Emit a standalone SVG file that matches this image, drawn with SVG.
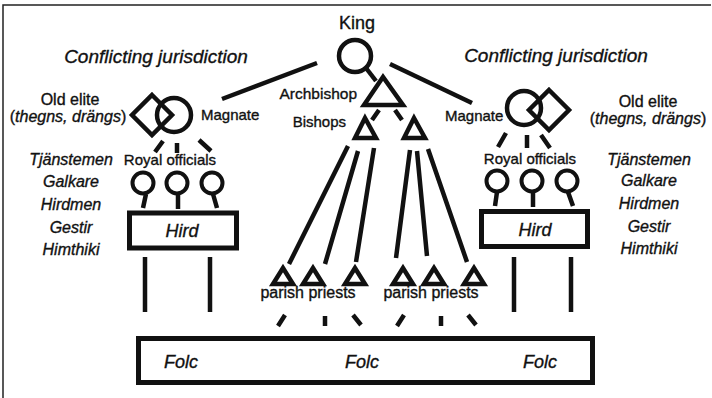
<svg xmlns="http://www.w3.org/2000/svg" width="712" height="398" viewBox="0 0 712 398">
<style>
text{font-family:"Liberation Sans",Arial,Helvetica,sans-serif;fill:#111;stroke:#111;stroke-width:0.35}
.it{font-style:italic}
.c{text-anchor:middle}
.e{text-anchor:end}
.s{fill:none;stroke:#111;stroke-width:4.5;stroke-linejoin:miter}
.t{fill:none;stroke:#111;stroke-width:4}
.f{font-size:15px}
.g{font-size:16px}
</style>
<rect width="712" height="398" fill="#fff"/>
<path d="M3,398V5H711" fill="none" stroke="#222" stroke-width="1.5"/>

<g id="labels-left">
<text class="it c" x="156" y="63" font-size="19">Conflicting jurisdiction</text>
<text class="c g" x="70" y="105">Old elite</text>
<text class="c g" x="68" y="122">(<tspan class="it">thegns, drängs</tspan>)</text>
<g class="it c g">
<text x="71" y="165">Tjänstemen</text>
<text x="71" y="187">Galkare</text>
<text x="71" y="210">Hirdmen</text>
<text x="71" y="233">Gestir</text>
<text x="71" y="255">Himthiki</text>
</g>
</g>

<g id="labels-right">
<text class="it c" x="556" y="62" font-size="19">Conflicting jurisdiction</text>
<text class="c g" x="648" y="107">Old elite</text>
<text class="c g" x="648" y="124">(<tspan class="it">thegns, drängs</tspan>)</text>
<g class="it c g">
<text x="649" y="165">Tjänstemen</text>
<text x="649" y="186">Galkare</text>
<text x="649" y="209">Hirdmen</text>
<text x="649" y="232">Gestir</text>
<text x="649" y="254">Himthiki</text>
</g>
</g>

<g id="king">
<text class="c" x="357" y="29" font-size="18">King</text>
<circle class="s" cx="355" cy="56" r="16"/>
</g>

<g id="archbishop">
<polygon class="s" points="383,77 364,105 403,105"/>
<text class="e" x="357" y="99" font-size="15.5">Archbishop</text>
</g>

<g id="bishops">
<text class="e" x="346" y="127" font-size="15">Bishops</text>
<polygon class="s" points="365,118 355,138 376,138"/>
<polygon class="s" points="414,118 404,138 425,138"/>
</g>

<g id="magnate-left">
<polygon class="s" points="152,95 172,115 152,135 132,115"/>
<circle class="s" cx="174" cy="115" r="17"/>
<text class="f" x="201" y="120">Magnate</text>
</g>

<g id="magnate-right">
<circle class="s" cx="524" cy="108" r="17"/>
<polygon class="s" points="549,90 569,110 549,130 529,110"/>
<text class="f" x="445" y="121">Magnate</text>
</g>

<g id="officials-left">
<text class="c f" x="170" y="165">Royal officials</text>
<circle class="t" cx="143" cy="183" r="10.5"/>
<circle class="t" cx="177" cy="183" r="10.5"/>
<circle class="t" cx="212" cy="183" r="10.5"/>
</g>

<g id="officials-right">
<text class="c f" x="530" y="164">Royal officials</text>
<circle class="t" cx="497" cy="181" r="10.5"/>
<circle class="t" cx="532" cy="181" r="10.5"/>
<circle class="t" cx="567" cy="181" r="10.5"/>
</g>

<g id="hird-left">
<rect x="129.5" y="213" width="107" height="35" fill="none" stroke="#111" stroke-width="5"/>
<text class="it c" x="182" y="237" font-size="18">Hird</text>
</g>

<g id="hird-right">
<rect x="481.5" y="211.5" width="106" height="35" fill="none" stroke="#111" stroke-width="5"/>
<text class="it c" x="535" y="236" font-size="18">Hird</text>
</g>

<g id="priests-left">
<polygon class="s" points="283,268 273,284 293,284"/>
<polygon class="s" points="313,268 303,284 323,284"/>
<polygon class="s" points="355,268 345,284 365,284"/>
<text class="c g" x="308" y="298">parish priests</text>
</g>

<g id="priests-right">
<polygon class="s" points="403,268 393,284 413,284"/>
<polygon class="s" points="434,268 424,284 444,284"/>
<polygon class="s" points="474,268 464,284 484,284"/>
<text class="c g" x="431" y="298">parish priests</text>
</g>

<g id="folc">
<rect x="138.5" y="338.5" width="454" height="44" fill="none" stroke="#111" stroke-width="5"/>
<text class="it c" x="181" y="368" font-size="18">Folc</text>
<text class="it c" x="362" y="368" font-size="18">Folc</text>
<text class="it c" x="540" y="368" font-size="18">Folc</text>
</g>

<g id="connectors" fill="none" stroke="#111" stroke-width="4.5">
<path d="M317,63L222,99"/>
<path d="M390,64L472,103"/>
<path d="M366,68L376,81"/>
<path d="M379,110L372,120M395,110L402,120"/>
<path d="M348,146L289,264M358,151L325,264M374,148L356,262"/>
<path d="M410,150L396,258M417,151L427,256M428,149L467,262"/>
<path d="M163,141L155,152M177,143V153M199,140L211,151"/>
<path d="M506,133L498,147M527,135V148M541,135L550,148"/>
<path d="M146,194L143,208M178,194V209M213,194L217,208"/>
<path d="M497,192L495,206M533,192V207M568,192L573,206"/>
<path d="M145,257V312M210,257V312M514,257V312M571,257V312"/>
<path d="M285,315L278,326M325,316V326M353,315L361,325"/>
<path d="M404,315L397,326M441,316V326M468,315L476,325"/>
</g>
</svg>
